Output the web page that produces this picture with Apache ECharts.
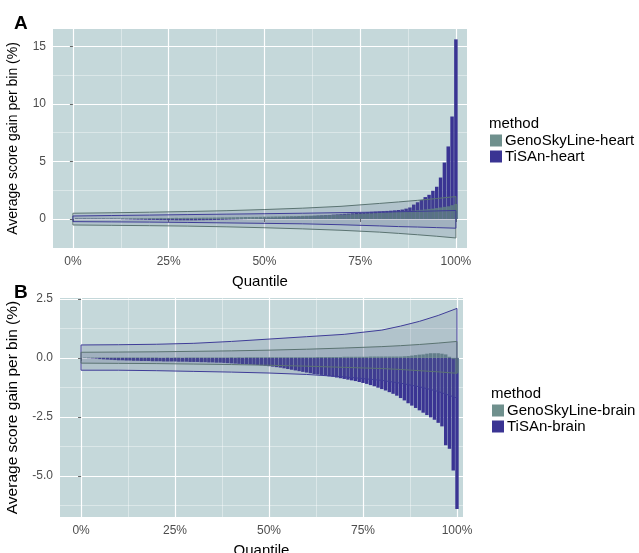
<!DOCTYPE html>
<html>
<head>
<meta charset="utf-8">
<script src="https://cdn.jsdelivr.net/npm/echarts@6/dist/echarts.min.js"></script>
<style>
  html, body { margin: 0; padding: 0; background: #fff; }
  #chart { width: 639px; height: 553px; }
</style>
</head>
<body>
<div id="chart"></div>
<script>
// quantile bins (percent)
const bins = Array.from({ length: 100 }, (_, i) => i + 1);

// panel A - heart
const tisanHeart = [
  0.03, 0.02, 0.03, 0.02, 0.02, 0.03, 0.02, 0.02, 0.01, 0.02,
  0.01, 0.0, -0.02, -0.03, -0.04, -0.05, -0.06, -0.06, -0.07, -0.08,
  -0.08, -0.09, -0.1, -0.1, -0.11, -0.11, -0.12, -0.12, -0.12, -0.12,
  -0.12, -0.12, -0.11, -0.11, -0.1, -0.1, -0.09, -0.08, -0.07, -0.06,
  -0.05, -0.04, -0.03, -0.02, -0.01, 0.0, 0.02, 0.03, 0.05, 0.06,
  0.08, 0.09, 0.1, 0.12, 0.13, 0.15, 0.16, 0.18, 0.2, 0.21,
  0.23, 0.25, 0.27, 0.29, 0.31, 0.33, 0.35, 0.38, 0.4, 0.42,
  0.45, 0.47, 0.5, 0.52, 0.55, 0.57, 0.6, 0.62, 0.64, 0.66,
  0.68, 0.7, 0.72, 0.75, 0.78, 0.82, 0.9, 1.0, 1.25, 1.45,
  1.65, 1.9, 2.1, 2.45, 2.8, 3.6, 4.9, 6.3, 8.9, 15.6
];
const genoHeart = [
  0.06, 0.05, 0.06, 0.05, 0.06, 0.05, 0.05, 0.06, 0.05, 0.06,
  0.06, 0.06, 0.07, 0.06, 0.07, 0.07, 0.07, 0.08, 0.07, 0.08,
  0.08, 0.08, 0.09, 0.08, 0.09, 0.09, 0.1, 0.09, 0.1, 0.1,
  0.1, 0.11, 0.11, 0.12, 0.12, 0.12, 0.13, 0.13, 0.14, 0.14,
  0.15, 0.15, 0.16, 0.16, 0.17, 0.17, 0.18, 0.18, 0.19, 0.2,
  0.2, 0.21, 0.22, 0.22, 0.23, 0.24, 0.25, 0.25, 0.26, 0.27,
  0.28, 0.29, 0.3, 0.31, 0.32, 0.33, 0.34, 0.35, 0.36, 0.37,
  0.38, 0.4, 0.41, 0.42, 0.44, 0.45, 0.47, 0.48, 0.5, 0.52,
  0.54, 0.56, 0.58, 0.6, 0.62, 0.65, 0.68, 0.7, 0.73, 0.76,
  0.8, 0.83, 0.87, 0.9, 0.95, 1.0, 1.05, 1.1, 1.2, 1.3
];

// panel B - brain
const tisanBrain = [
  0.0, -0.01, -0.02, -0.03, -0.05, -0.06, -0.07, -0.08, -0.09, -0.1,
  -0.1, -0.11, -0.11, -0.12, -0.12, -0.13, -0.13, -0.13, -0.14, -0.14,
  -0.14, -0.15, -0.15, -0.15, -0.15, -0.16, -0.16, -0.16, -0.17, -0.17,
  -0.17, -0.18, -0.18, -0.19, -0.19, -0.2, -0.2, -0.21, -0.22, -0.23,
  -0.24, -0.25, -0.26, -0.27, -0.28, -0.29, -0.3, -0.31, -0.33, -0.35,
  -0.37, -0.39, -0.41, -0.44, -0.47, -0.5, -0.53, -0.56, -0.59, -0.62,
  -0.65, -0.68, -0.7, -0.72, -0.75, -0.78, -0.8, -0.83, -0.86, -0.89,
  -0.92, -0.95, -0.98, -1.02, -1.06, -1.1, -1.15, -1.2, -1.26, -1.32,
  -1.38, -1.45, -1.52, -1.6, -1.7, -1.8, -1.92, -2.02, -2.12, -2.22,
  -2.32, -2.42, -2.52, -2.62, -2.75, -2.9, -3.7, -3.85, -4.77, -6.4
];
const genoBrain = [
  0.02, 0.02, 0.02, 0.02, 0.02, 0.02, 0.02, 0.02, 0.02, 0.02,
  0.02, 0.02, 0.02, 0.02, 0.02, 0.02, 0.02, 0.02, 0.02, 0.02,
  0.01, 0.01, 0.02, 0.01, 0.02, 0.02, 0.01, 0.02, 0.02, 0.02,
  0.02, 0.02, 0.02, 0.02, 0.02, 0.02, 0.02, 0.02, 0.02, 0.03,
  0.02, 0.03, 0.02, 0.03, 0.03, 0.03, 0.03, 0.03, 0.03, 0.03,
  0.03, 0.03, 0.03, 0.03, 0.03, 0.03, 0.03, 0.03, 0.03, 0.03,
  0.03, 0.03, 0.04, 0.04, 0.04, 0.04, 0.04, 0.04, 0.04, 0.05,
  0.05, 0.05, 0.05, 0.05, 0.05, 0.05, 0.06, 0.06, 0.06, 0.06,
  0.06, 0.06, 0.06, 0.06, 0.06, 0.07, 0.08, 0.1, 0.12, 0.14,
  0.15, 0.18, 0.2, 0.2, 0.2, 0.18, 0.15, 0.05, -0.05, -0.65
];

// null ribbons, sampled at these quantiles
const ribbonQ = [0, 10, 20, 30, 40, 50, 60, 70, 80, 85, 90, 95, 100];
const genoHeartHi = [0.5, 0.54, 0.59, 0.65, 0.72, 0.82, 0.94, 1.1, 1.35, 1.48, 1.62, 1.78, 1.95];
const genoHeartLo = [-0.52, -0.55, -0.58, -0.62, -0.68, -0.76, -0.86, -0.98, -1.14, -1.25, -1.37, -1.5, -1.65];
const tisanHeartHi = [0.26, 0.3, 0.34, 0.38, 0.42, 0.46, 0.5, 0.55, 0.6, 0.63, 0.66, 0.7, 0.74];
const tisanHeartLo = [-0.23, -0.25, -0.27, -0.3, -0.34, -0.38, -0.42, -0.5, -0.6, -0.66, -0.7, -0.75, -0.8];
const tisanBrainHi = [0.55, 0.56, 0.58, 0.62, 0.7, 0.8, 0.9, 1.0, 1.18, 1.35, 1.55, 1.8, 2.1];
const tisanBrainLo = [-0.52, -0.52, -0.54, -0.57, -0.6, -0.64, -0.7, -0.8, -0.95, -1.07, -1.22, -1.42, -1.7];
const genoBrainHi = [0.24, 0.25, 0.26, 0.28, 0.3, 0.33, 0.37, 0.42, 0.48, 0.52, 0.57, 0.63, 0.7];
const genoBrainLo = [-0.22, -0.23, -0.24, -0.26, -0.28, -0.31, -0.35, -0.4, -0.45, -0.49, -0.54, -0.59, -0.65];

// ticks
const xTicks = [0, 25, 50, 75, 100];
const xMinor = [12.5, 37.5, 62.5, 87.5];
const yTicksA = [0, 5, 10, 15];
const yMinorA = [2.5, 7.5, 12.5];
const yTicksB = [-5, -2.5, 0, 2.5];
const yMinorB = [-6.25, -3.75, -1.25, 1.25];

const FONT = 'Liberation Sans, Arial, sans-serif';
const PANEL = '#c5d8da';
const GENO = '#5f8481';
const TISAN = '#3a3493';
const RIBBON_FILL = 'rgba(90,100,140,0.18)';
const GENO_LINE = '#5b7472';
const TISAN_LINE = '#3f3d98';

function majorX(grid, min, max, nameGap) {
  return {
    type: 'value', gridIndex: grid, min, max, position: 'bottom',
    name: 'Quantile', nameLocation: 'middle', nameGap,
    nameTextStyle: { fontSize: 15, color: '#000', fontFamily: FONT },
    axisLine: { show: false },
    axisTick: { show: true, length: 3, customValues: xTicks, lineStyle: { color: '#666' } },
    axisLabel: { customValues: xTicks, formatter: v => v + '%', fontSize: 12, color: '#4d4d4d', margin: 8, fontFamily: FONT },
    splitLine: { show: true, lineStyle: { color: '#fff', width: 1.2 } }
  };
}
function minorAxis(grid, min, max, values) {
  return {
    type: 'value', gridIndex: grid, min, max,
    axisLine: { show: false },
    axisTick: { show: false, customValues: values },
    axisLabel: { show: false, customValues: values },
    splitLine: { show: true, lineStyle: { color: 'rgba(255,255,255,0.55)', width: 0.7 } }
  };
}
function majorY(grid, min, max, ticks, fmt, nameGap, nameSize) {
  return {
    type: 'value', gridIndex: grid, min, max,
    name: 'Average score gain per bin (%)', nameLocation: 'middle', nameGap,
    nameTextStyle: { fontSize: nameSize, color: '#000', fontFamily: FONT },
    axisLine: { show: false },
    axisTick: { show: true, length: 3, customValues: ticks, lineStyle: { color: '#666' } },
    axisLabel: { customValues: ticks, formatter: fmt, fontSize: 12, color: '#4d4d4d', margin: 7, fontFamily: FONT },
    splitLine: { show: true, lineStyle: { color: '#fff', width: 1.2 } }
  };
}

function bars(name, xi, yi, values, color, opacity, width) {
  return {
    type: 'bar', name, xAxisIndex: xi, yAxisIndex: yi,
    data: bins.map((b, i) => [b, values[i]]),
    barWidth: width, barMinWidth: width, barGap: '-100%',
    itemStyle: { color, opacity },
    silent: true, z: 2
  };
}

function ribbon(name, xi, yi, lo, hi, stroke) {
  return {
    type: 'custom', name, xAxisIndex: xi, yAxisIndex: yi, z: 4, silent: true, clip: true,
    data: ribbonQ.map((q, i) => [q, lo[i], hi[i]]),
    encode: { x: 0, y: [1, 2] },
    renderItem(params, api) {
      if (params.dataIndex !== 0) return null;
      const pts = [];
      for (let i = 0; i < ribbonQ.length; i++) pts.push(api.coord([ribbonQ[i], hi[i]]));
      for (let i = ribbonQ.length - 1; i >= 0; i--) pts.push(api.coord([ribbonQ[i], lo[i]]));
      return {
        type: 'polygon',
        shape: { points: pts },
        style: { fill: RIBBON_FILL, stroke, lineWidth: 1 }
      };
    }
  };
}

const chart = echarts.init(document.getElementById('chart'));
chart.setOption({
  animation: false,
  textStyle: { fontFamily: FONT },
  title: [
    { text: 'A', left: 9, top: 9, textStyle: { fontSize: 19, fontWeight: 'bold', color: '#000' } },
    { text: 'B', left: 9, top: 278, textStyle: { fontSize: 19, fontWeight: 'bold', color: '#000' } },
    { text: 'method', left: 489, top: 116, padding: 0, textStyle: { fontSize: 15, fontWeight: 'normal', color: '#000' } },
    { text: 'method', left: 491, top: 386, padding: 0, textStyle: { fontSize: 15, fontWeight: 'normal', color: '#000' } }
  ],
  legend: [
    {
      data: ['GenoSkyLine-heart', 'TiSAn-heart'], orient: 'vertical', left: 490, top: 133,
      padding: 0, itemWidth: 12, itemHeight: 12, itemGap: 1, icon: 'rect',
      textStyle: { fontSize: 15, color: '#000', padding: [0, 0, 0, -2] }
    },
    {
      data: ['GenoSkyLine-brain', 'TiSAn-brain'], orient: 'vertical', left: 492, top: 403,
      padding: 0, itemWidth: 12, itemHeight: 12, itemGap: 1, icon: 'rect',
      textStyle: { fontSize: 15, color: '#000', padding: [0, 0, 0, -2] }
    }
  ],
  grid: [
    { left: 53, top: 29, width: 414, height: 219, show: true, backgroundColor: PANEL, borderWidth: 0, outerBoundsMode: 'none' },
    { left: 60, top: 298, width: 403, height: 219, show: true, backgroundColor: PANEL, borderWidth: 0, outerBoundsMode: 'none' }
  ],
  xAxis: [
    majorX(0, -5.2, 102.9, 26),
    minorAxis(0, -5.2, 102.9, xMinor),
    majorX(1, -5.6, 101.6, 26),
    minorAxis(1, -5.6, 101.6, xMinor)
  ],
  yAxis: [
    majorY(0, -2.52, 16.5, yTicksA, v => String(v), 33, 14),
    minorAxis(0, -2.52, 16.5, yMinorA),
    majorY(1, -6.74, 2.54, yTicksB, v => v.toFixed(1), 39, 15.5),
    minorAxis(1, -6.74, 2.54, yMinorB)
  ],
  series: [
    bars('TiSAn-heart', 0, 0, tisanHeart, TISAN, 1, 3.5),
    bars('GenoSkyLine-heart', 0, 0, genoHeart, GENO, 0.9, 3.5),
    ribbon('geno-heart-null', 0, 0, genoHeartLo, genoHeartHi, GENO_LINE),
    ribbon('tisan-heart-null', 0, 0, tisanHeartLo, tisanHeartHi, TISAN_LINE),
    bars('TiSAn-brain', 2, 2, tisanBrain, TISAN, 1, 3.4),
    bars('GenoSkyLine-brain', 2, 2, genoBrain, GENO, 0.9, 3.4),
    ribbon('tisan-brain-null', 2, 2, tisanBrainLo, tisanBrainHi, TISAN_LINE),
    ribbon('geno-brain-null', 2, 2, genoBrainLo, genoBrainHi, GENO_LINE)
  ]
});
</script>
</body>
</html>
